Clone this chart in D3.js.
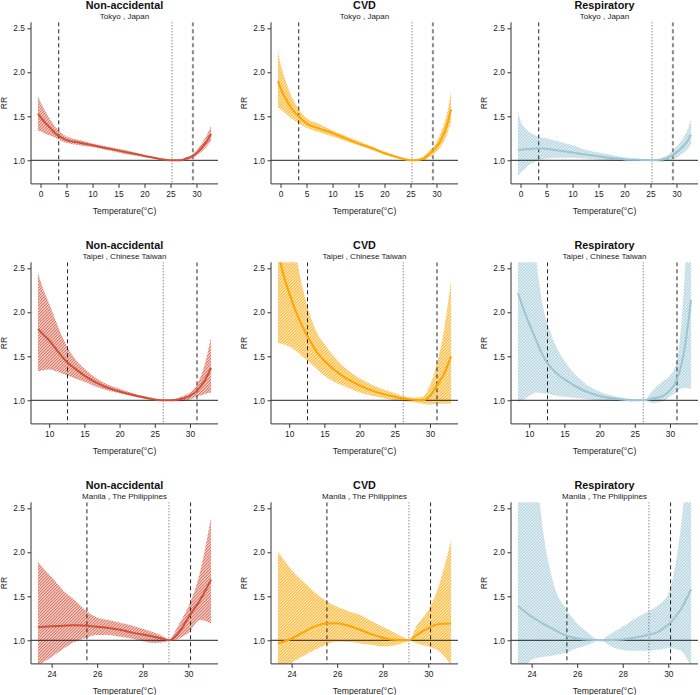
<!DOCTYPE html>
<html><head><meta charset="utf-8">
<script src="https://cdn.jsdelivr.net/npm/d3@7"></script>
<style>body{margin:0;background:#fff}svg{display:block;font-family:"Liberation Sans",Arial,sans-serif}</style>
</head><body><svg id="c" width="700" height="695"></svg>
<script>
// ---------- DATA ----------
const cities = ["Tokyo , Japan", "Taipei , Chinese Taiwan", "Manila , The Philippines"];
const outcomes = ["Non-accidental", "CVD", "Respiratory"];
const yTicks = [1.0, 1.5, 2.0, 2.5];
const yLimits = [0.8, 2.5];

const tokyoTicks = [0, 5, 10, 15, 20, 25, 30];
const taipeiTicks = [10, 15, 20, 25, 30];
const manilaTicks = [24, 26, 28, 30];

// cut points: [low percentile, reference (MMT), high percentile]
const tokyoCuts = [3.5, 25.3, 29.3];
const taipeiCuts = [12.6, 26.2, 31.0];
const manilaCuts = [25.55, 29.15, 30.1];

// Tokyo
const tokyoTemp = [-0.5, 0, 1, 2, 3, 4, 5, 7.5, 10, 12.5, 15, 17.5, 20, 22.5, 25.3, 27, 28, 29, 30, 31, 32, 32.8];
const tokyoNonRR = [1.53, 1.49, 1.42, 1.36, 1.30, 1.26, 1.23, 1.20, 1.17, 1.14, 1.11, 1.08, 1.05, 1.02, 1.00, 1.00, 1.02, 1.04, 1.08, 1.14, 1.22, 1.30];
const tokyoNonLo = [1.34, 1.33, 1.30, 1.28, 1.25, 1.22, 1.20, 1.17, 1.15, 1.12, 1.09, 1.06, 1.04, 1.015, 1.00, 0.99, 1.00, 1.02, 1.05, 1.10, 1.16, 1.22];
const tokyoNonHi = [1.73, 1.66, 1.55, 1.45, 1.37, 1.31, 1.27, 1.23, 1.19, 1.16, 1.13, 1.10, 1.06, 1.03, 1.00, 1.01, 1.03, 1.06, 1.11, 1.19, 1.29, 1.39];
const tokyoCvdRR = [1.90, 1.82, 1.70, 1.60, 1.53, 1.47, 1.42, 1.36, 1.31, 1.25, 1.19, 1.14, 1.08, 1.035, 1.00, 1.01, 1.04, 1.09, 1.15, 1.25, 1.40, 1.58];
const tokyoCvdLo = [1.60, 1.58, 1.53, 1.48, 1.44, 1.40, 1.37, 1.32, 1.27, 1.22, 1.17, 1.12, 1.07, 1.025, 1.00, 0.99, 1.01, 1.05, 1.10, 1.17, 1.29, 1.44];
const tokyoCvdHi = [2.25, 2.10, 1.90, 1.74, 1.63, 1.54, 1.48, 1.41, 1.34, 1.28, 1.22, 1.16, 1.10, 1.045, 1.00, 1.03, 1.07, 1.13, 1.21, 1.34, 1.53, 1.78];
const tokyoResRR = [1.12, 1.12, 1.125, 1.13, 1.135, 1.135, 1.13, 1.11, 1.09, 1.065, 1.045, 1.025, 1.01, 1.005, 1.00, 1.005, 1.02, 1.05, 1.09, 1.14, 1.21, 1.29];
const tokyoResLo = [0.82, 0.86, 0.91, 0.96, 0.99, 1.01, 1.02, 1.03, 1.03, 1.02, 1.01, 1.00, 0.99, 0.99, 1.00, 0.98, 0.99, 1.01, 1.03, 1.07, 1.12, 1.18];
const tokyoResHi = [1.55, 1.45, 1.36, 1.31, 1.28, 1.26, 1.25, 1.21, 1.17, 1.12, 1.09, 1.06, 1.035, 1.02, 1.00, 1.03, 1.05, 1.09, 1.15, 1.23, 1.33, 1.47];

// Taipei
const taipeiTemp = [8.4, 9, 10, 11, 12, 13, 14, 15, 17.5, 20, 22.5, 25, 26.2, 27.5, 29, 30, 31, 32, 33];
const taipeiNonRR = [1.81, 1.76, 1.68, 1.58, 1.48, 1.40, 1.34, 1.28, 1.17, 1.10, 1.05, 1.01, 1.00, 1.00, 1.02, 1.05, 1.11, 1.21, 1.37];
const taipeiNonLo = [1.33, 1.34, 1.35, 1.33, 1.30, 1.27, 1.24, 1.21, 1.13, 1.08, 1.035, 1.005, 1.00, 0.99, 0.99, 1.01, 1.04, 1.07, 1.09];
const taipeiNonHi = [2.45, 2.30, 2.10, 1.89, 1.70, 1.55, 1.44, 1.36, 1.21, 1.13, 1.065, 1.02, 1.00, 1.01, 1.05, 1.09, 1.18, 1.38, 1.72];
const taipeiCvdRR = [2.70, 2.48, 2.22, 2.00, 1.82, 1.67, 1.54, 1.45, 1.28, 1.17, 1.09, 1.04, 1.02, 1.005, 1.00, 1.05, 1.17, 1.30, 1.50];
const taipeiCvdLo = [1.65, 1.64, 1.61, 1.56, 1.49, 1.42, 1.35, 1.28, 1.17, 1.09, 1.04, 1.00, 0.99, 0.98, 0.96, 0.95, 0.96, 0.96, 0.96];
const taipeiCvdHi = [4.50, 4.00, 3.30, 2.65, 2.25, 1.96, 1.76, 1.64, 1.40, 1.25, 1.15, 1.08, 1.05, 1.03, 1.04, 1.17, 1.42, 1.80, 2.37];
const taipeiResRR = [2.22, 2.08, 1.87, 1.68, 1.50, 1.38, 1.30, 1.24, 1.12, 1.05, 1.015, 1.00, 1.00, 1.02, 1.05, 1.11, 1.24, 1.55, 2.14];
const taipeiResLo = [0.98, 1.00, 1.05, 1.09, 1.08, 1.07, 1.05, 1.04, 1.02, 1.00, 0.99, 0.99, 1.00, 0.97, 0.99, 1.04, 1.10, 1.14, 1.13];
const taipeiResHi = [5.00, 4.40, 3.40, 2.60, 2.05, 1.78, 1.58, 1.45, 1.22, 1.10, 1.04, 1.01, 1.00, 1.11, 1.22, 1.28, 1.45, 2.30, 4.00];

// Manila
const manilaTemp = [23.4, 23.7, 24, 24.5, 25, 25.5, 26, 26.5, 27, 27.5, 28, 28.5, 29, 29.15, 29.5, 29.8, 30, 30.5, 31];
const manilaNonRR = [1.15, 1.155, 1.16, 1.165, 1.17, 1.165, 1.155, 1.14, 1.12, 1.09, 1.065, 1.04, 1.01, 1.00, 1.06, 1.17, 1.26, 1.45, 1.69];
const manilaNonLo = [0.72, 0.76, 0.81, 0.90, 0.98, 1.03, 1.06, 1.06, 1.04, 1.02, 0.99, 0.97, 0.98, 1.00, 1.01, 1.05, 1.08, 1.23, 1.19];
const manilaNonHi = [1.89, 1.80, 1.72, 1.57, 1.46, 1.34, 1.26, 1.23, 1.20, 1.17, 1.13, 1.09, 1.03, 1.00, 1.14, 1.28, 1.38, 1.76, 2.40];
const manilaCvdRR = [0.965, 0.99, 1.02, 1.09, 1.155, 1.19, 1.195, 1.165, 1.12, 1.07, 1.03, 1.005, 1.00, 1.00, 1.06, 1.11, 1.14, 1.185, 1.19];
const manilaCvdLo = [0.55, 0.65, 0.74, 0.82, 0.89, 0.95, 0.985, 0.98, 0.965, 0.95, 0.93, 0.94, 0.985, 1.00, 0.965, 0.945, 0.93, 0.87, 0.72];
const manilaCvdHi = [2.01, 1.90, 1.80, 1.67, 1.55, 1.45, 1.38, 1.33, 1.29, 1.22, 1.155, 1.09, 1.02, 1.00, 1.17, 1.27, 1.34, 1.65, 2.14];
const manilaResTemp = [23.4, 24, 24.5, 25, 25.5, 26, 26.5, 27, 27.5, 28, 28.5, 29, 29.5, 30, 30.5, 31];
const manilaResRR = [1.39, 1.27, 1.19, 1.12, 1.055, 1.02, 1.005, 1.00, 1.003, 1.01, 1.03, 1.055, 1.09, 1.18, 1.33, 1.58];
const manilaResLo = [0.50, 0.78, 0.81, 0.83, 0.86, 0.91, 0.95, 1.00, 0.93, 0.89, 0.88, 0.88, 0.89, 0.91, 0.89, 0.70];
const manilaResHi = [5.00, 3.50, 2.25, 1.61, 1.36, 1.19, 1.08, 1.00, 1.08, 1.155, 1.24, 1.31, 1.39, 1.53, 2.18, 3.50];

// ---------- PANELS ----------
const panels = [
  {c:0,o:0,t:tokyoTemp,rr:tokyoNonRR,lo:tokyoNonLo,hi:tokyoNonHi},
  {c:0,o:1,t:tokyoTemp,rr:tokyoCvdRR,lo:tokyoCvdLo,hi:tokyoCvdHi},
  {c:0,o:2,t:tokyoTemp,rr:tokyoResRR,lo:tokyoResLo,hi:tokyoResHi},
  {c:1,o:0,t:taipeiTemp,rr:taipeiNonRR,lo:taipeiNonLo,hi:taipeiNonHi},
  {c:1,o:1,t:taipeiTemp,rr:taipeiCvdRR,lo:taipeiCvdLo,hi:taipeiCvdHi},
  {c:1,o:2,t:taipeiTemp,rr:taipeiResRR,lo:taipeiResLo,hi:taipeiResHi},
  {c:2,o:0,t:manilaTemp,rr:manilaNonRR,lo:manilaNonLo,hi:manilaNonHi},
  {c:2,o:1,t:manilaTemp,rr:manilaCvdRR,lo:manilaCvdLo,hi:manilaCvdHi},
  {c:2,o:2,t:manilaResTemp,rr:manilaResRR,lo:manilaResLo,hi:manilaResHi}
];
const cityTicks = [tokyoTicks, taipeiTicks, manilaTicks];
const cityCuts = [tokyoCuts, taipeiCuts, manilaCuts];
const cityTemps = [tokyoTemp, taipeiTemp, manilaTemp];

// ---------- STYLE / LAYOUT ----------
const colors = ["#D2503A", "#FFA500", "#9CC6D4"];
const colX = [31, 271, 511], rowY = [22.3, 262.3, 502.3];
const W = 187, H = 161.6;
const highCutStyle = [{stroke:"#888", w:2}, {stroke:"#222", w:1}, {stroke:"#222", w:1}];

const svg = d3.select("#c");
const defs = svg.append("defs");
colors.forEach((col, i) => {
  const p = defs.append("pattern").attr("id", "h" + i).attr("patternUnits", "userSpaceOnUse")
    .attr("width", 3).attr("height", 3);
  p.append("path").attr("d", "M-0.75,0.75L0.75,-0.75M0,3L3,0M2.25,3.75L3.75,2.25")
    .attr("stroke", col).attr("stroke-width", 1.1);
});

function ext(lims) { const r = lims[1] - lims[0]; return [lims[0] - 0.04 * r, lims[1] + 0.04 * r]; }

panels.forEach((p, idx) => {
  const x0 = colX[p.o], y0 = rowY[p.c];
  const g = svg.append("g").attr("transform", `translate(${x0},${y0})`);
  const x = d3.scaleLinear().domain(ext(d3.extent(cityTemps[p.c]))).range([0, W]);
  const y = d3.scaleLinear().domain(ext(yLimits)).range([H, 0]);
  const cid = "clip" + idx;
  defs.append("clipPath").attr("id", cid).append("rect").attr("width", W).attr("height", H);
  const pg = g.append("g").attr("clip-path", `url(#${cid})`);
  const pts = p.t.map((t, i) => ({t, rr: p.rr[i], lo: p.lo[i], hi: p.hi[i]}));

  pg.append("path").datum(pts)
    .attr("d", d3.area().x(d => x(d.t)).y0(d => y(d.lo)).y1(d => y(d.hi)).curve(d3.curveMonotoneX))
    .attr("fill", `url(#h${p.o})`);

  pg.append("line").attr("x1", 0).attr("x2", W).attr("y1", y(1)).attr("y2", y(1))
    .attr("stroke", "#222").attr("stroke-width", 1);

  const cuts = cityCuts[p.c];
  pg.append("line").attr("x1", x(cuts[0])).attr("x2", x(cuts[0])).attr("y1", 0).attr("y2", H)
    .attr("stroke", "#222").attr("stroke-width", 1).attr("stroke-dasharray", "4,3");
  pg.append("line").attr("x1", x(cuts[1])).attr("x2", x(cuts[1])).attr("y1", 0).attr("y2", H)
    .attr("stroke", "#555").attr("stroke-width", 1).attr("stroke-dasharray", "1,2");
  const hs = highCutStyle[p.c];
  pg.append("line").attr("x1", x(cuts[2])).attr("x2", x(cuts[2])).attr("y1", 0).attr("y2", H)
    .attr("stroke", hs.stroke).attr("stroke-width", hs.w).attr("stroke-dasharray", "4,3");

  pg.append("path").datum(pts)
    .attr("d", d3.line().x(d => x(d.t)).y(d => y(d.rr)).curve(d3.curveMonotoneX))
    .attr("fill", "none").attr("stroke", colors[p.o]).attr("stroke-width", 2);

  // axes
  const ax = g.append("g").attr("transform", `translate(0,${H})`)
    .call(d3.axisBottom(x).tickValues(cityTicks[p.c]).tickSize(4).tickPadding(3).tickSizeOuter(0));
  const ay = g.append("g")
    .call(d3.axisLeft(y).tickValues(yTicks).tickFormat(d3.format(".1f")).tickSize(3.5).tickPadding(2.5).tickSizeOuter(0));
  [ax, ay].forEach(a => {
    a.select(".domain").remove();
    a.selectAll("line").attr("stroke", "#333");
    a.selectAll("text").attr("fill", "#222").style("font-size", "8.4px").style("font-family", "Liberation Sans, Arial, sans-serif");
  });
  g.append("line").attr("x1", 0).attr("x2", 0).attr("y1", 0).attr("y2", H).attr("stroke", "#333");
  g.append("line").attr("x1", 0).attr("x2", W).attr("y1", H).attr("y2", H).attr("stroke", "#333");

  g.append("text").attr("x", W / 2).attr("y", H + 27).attr("text-anchor", "middle")
    .attr("dominant-baseline", "central").style("font-size", "8.6px").attr("fill", "#222")
    .text("Temperature(°C)");
  g.append("text").attr("transform", `translate(-27,${H / 2}) rotate(-90)`).attr("text-anchor", "middle")
    .attr("dominant-baseline", "central").style("font-size", "8.6px").attr("fill", "#222").text("RR");
  g.append("text").attr("x", W / 2).attr("y", -17).attr("text-anchor", "middle")
    .attr("dominant-baseline", "central").style("font-size", "10.8px").style("font-weight", "bold")
    .attr("fill", "#111").text(outcomes[p.o]);
  g.append("text").attr("x", W / 2).attr("y", -5.5).attr("text-anchor", "middle")
    .attr("dominant-baseline", "central").style("font-size", "8px").attr("fill", "#222")
    .text(cities[p.c]);
});
</script></body></html>
